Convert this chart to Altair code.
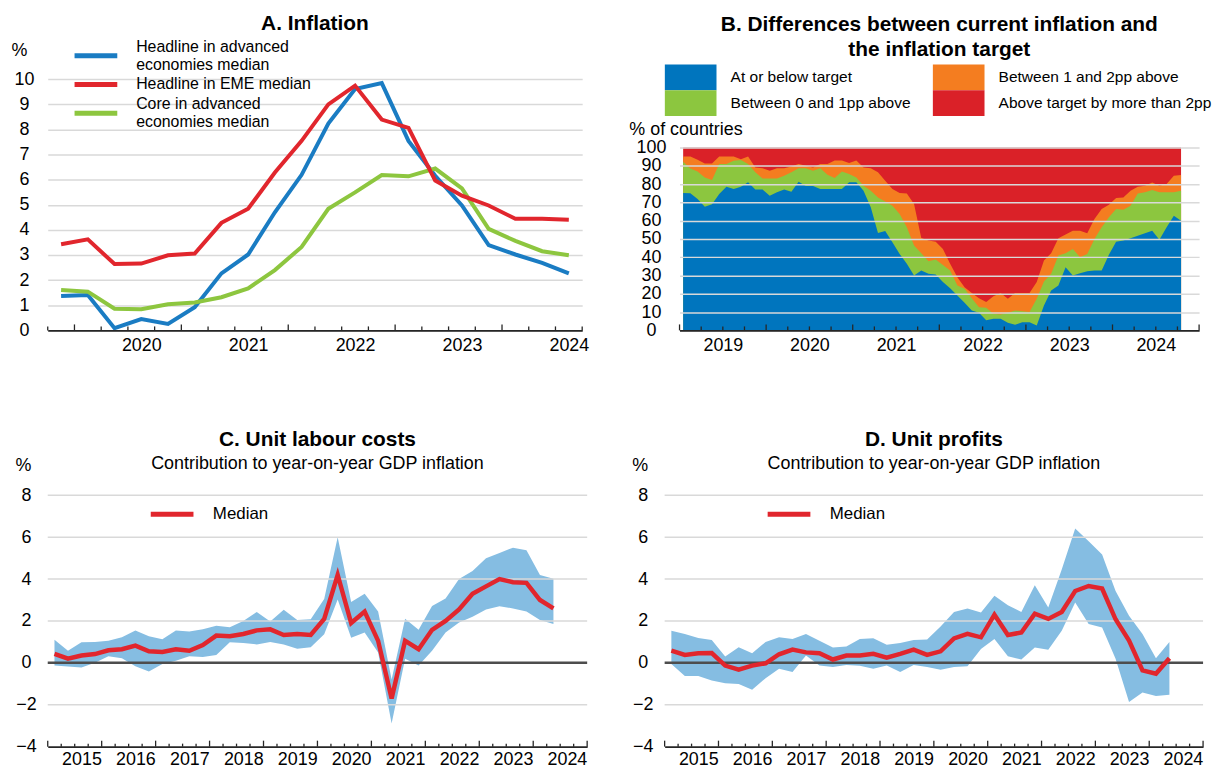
import altair as alt
import numpy as np
import pandas as pd

FONT = "Liberation Sans"
AXIS_C = "#262626"
GRID_C = "#D9D9D9"

# ---------------- Panel A: inflation, quarterly 2019Q4-2024Q3 ----------------
a_quarters = [str(p) for p in pd.period_range("2019Q4", "2024Q3", freq="Q")]
a_headline_ae = [1.37, 1.41, 0.09, 0.45, 0.26, 0.92, 2.27, 3.02, 4.70, 6.19,
                 8.23, 9.60, 9.84, 7.54, 6.15, 4.97, 3.39, 3.02, 2.69, 2.27]
a_headline_eme = [3.43, 3.62, 2.64, 2.66, 2.99, 3.06, 4.28, 4.84, 6.28, 7.54,
                  8.99, 9.74, 8.39, 8.06, 5.96, 5.36, 4.97, 4.44, 4.44, 4.40]
a_core_ae = [1.61, 1.54, 0.86, 0.84, 1.04, 1.11, 1.32, 1.67, 2.40, 3.32,
             4.84, 5.49, 6.18, 6.13, 6.44, 5.65, 4.04, 3.56, 3.15, 2.99]
a_series = ["Headline in advanced|\u00a0economies median",
            "Headline in EME median",
            "Core in advanced|\u00a0economies median"]
a_colors = ["#1A7CC3", "#E1262D", "#8DC63F"]

# ---------------- Panel B: monthly 2019-01 .. 2024-10 (cumulative % of countries) ----
b_months = [str(p) for p in pd.period_range("2019-01", "2024-10", freq="M")]
b_at_or_below = [75.1, 75.0, 71.8, 67.6, 69.0, 74.5, 78.5, 77.3, 78.5, 81.0,
                 77.0, 77.0, 73.6, 75.5, 77.0, 75.8, 81.3, 79.0, 79.0, 77.3,
                 77.3, 77.3, 77.3, 81.0, 81.0, 76.4, 67.3, 53.3, 54.4, 48.2,
                 41.8, 36.4, 30.0, 32.7, 31.0, 30.5, 26.4, 23.1, 19.1, 15.1,
                 10.9, 9.6, 5.5, 6.4, 6.4, 4.2, 3.1, 4.5, 4.5, 2.7,
                 13.6, 21.8, 24.5, 34.5, 30.0, 31.3, 32.4, 32.7, 32.7, 41.3,
                 48.5, 49.1, 50.4, 51.8, 53.1, 54.5, 49.6, 56.4, 62.7, 60.0]
b_up_to_1pp = [92.2, 88.5, 86.9, 83.6, 82.2, 90.9, 90.9, 92.7, 93.1, 90.9,
               86.4, 83.1, 83.1, 83.1, 84.5, 86.4, 88.7, 88.7, 87.3, 88.7,
               85.1, 83.3, 86.9, 85.5, 83.6, 79.1, 76.4, 72.7, 70.5, 68.2,
               63.6, 56.4, 46.4, 42.2, 37.8, 38.7, 35.8, 32.7, 24.5, 22.7,
               17.6, 12.7, 12.4, 9.1, 8.7, 9.6, 10.9, 10.4, 10.0, 17.3,
               26.7, 30.9, 40.9, 42.2, 44.5, 40.0, 41.8, 50.0, 56.4, 61.8,
               66.4, 66.0, 68.2, 74.9, 75.5, 76.7, 75.5, 75.5, 75.5, 76.4]
b_up_to_2pp = [95.1, 95.1, 93.3, 91.3, 91.3, 95.1, 95.1, 95.1, 93.6, 95.1,
               89.1, 88.7, 87.3, 88.7, 88.7, 89.6, 90.9, 90.0, 89.1, 90.9,
               90.9, 92.9, 92.9, 91.5, 92.9, 89.1, 88.7, 86.4, 81.8, 77.3,
               75.1, 74.9, 69.1, 50.5, 49.1, 48.5, 44.5, 36.4, 29.1, 23.6,
               20.5, 17.6, 15.5, 18.7, 20.5, 17.3, 20.5, 20.5, 20.5, 26.4,
               38.2, 42.2, 50.4, 52.4, 54.5, 54.5, 53.1, 60.9, 66.4, 68.7,
               72.4, 72.7, 76.4, 78.5, 79.1, 80.9, 79.1, 80.0, 84.5, 84.9]
b_all = [100.0] * len(b_months)
b_cats = ["At or below target", "Between 0 and 1pp above",
          "Between 1 and 2pp above", "Above target by more than 2pp"]
b_colors = ["#0075BE", "#8CC63F", "#F47D20", "#DA2128"]

# ---------------- Panels C & D: quarterly 2015Q1 .. 2024Q2 ----------------
cd_quarters = [str(p) for p in pd.period_range("2015Q1", "2024Q2", freq="Q")]
c_median = [0.43, 0.20, 0.35, 0.42, 0.60, 0.65, 0.82, 0.55, 0.52, 0.65,
            0.58, 0.85, 1.30, 1.27, 1.38, 1.55, 1.60, 1.33, 1.38, 1.33,
            2.10, 4.20, 1.90, 2.45, 1.05, -1.70, 1.05, 0.65, 1.58, 2.00,
            2.55, 3.30, 3.65, 4.00, 3.85, 3.82, 3.00, 2.60]
c_high = [1.10, 0.58, 0.98, 1.00, 1.05, 1.22, 1.55, 1.27, 1.13, 1.55,
          1.50, 1.60, 1.77, 1.70, 2.00, 2.43, 1.98, 2.53, 2.05, 2.08,
          3.05, 6.00, 2.90, 3.30, 2.45, -0.80, 2.10, 1.58, 2.72, 3.07,
          4.00, 4.38, 5.00, 5.25, 5.50, 5.38, 4.20, 4.02]
c_low = [-0.13, -0.17, -0.22, 0.00, 0.32, 0.22, -0.16, -0.41, -0.05, 0.10,
         0.32, 0.28, 0.38, 0.98, 0.95, 0.88, 1.00, 0.88, 0.67, 0.74,
         1.37, 3.03, 1.20, 1.45, 0.50, -2.90, 0.20, -0.13, 0.58, 1.45,
         1.93, 2.20, 2.55, 2.70, 2.60, 2.45, 2.05, 1.85]
d_median = [0.58, 0.38, 0.46, 0.47, -0.13, -0.32, -0.13, -0.02, 0.41, 0.63,
            0.50, 0.46, 0.16, 0.35, 0.35, 0.43, 0.25, 0.43, 0.63, 0.38,
            0.55, 1.17, 1.38, 1.22, 2.30, 1.33, 1.45, 2.35, 2.10, 2.43,
            3.43, 3.67, 3.55, 2.08, 1.06, -0.36, -0.52, 0.22]
d_high = [1.53, 1.38, 1.19, 1.09, 0.30, 0.74, 0.46, 1.00, 1.22, 1.14,
          1.38, 1.06, 0.73, 0.78, 1.14, 1.17, 0.87, 0.95, 1.09, 1.12,
          1.74, 2.43, 2.60, 2.40, 3.20, 2.75, 2.43, 3.70, 2.64, 4.46,
          6.42, 5.80, 5.17, 3.43, 2.25, 1.38, 0.22, 1.00]
d_low = [-0.05, -0.63, -0.63, -0.84, -0.97, -1.01, -1.28, -0.73, -0.28, -0.44,
         0.35, -0.13, -0.20, -0.10, -0.14, -0.28, -0.13, -0.44, -0.10, -0.20,
         -0.33, -0.20, -0.16, 0.66, 1.14, 0.32, 0.16, 0.73, 0.63, 1.53,
         2.88, 1.85, 1.69, 0.19, -1.87, -1.42, -1.58, -1.52]
band_color = "#85BDE2"
median_color = "#E1262D"

LINE_SYMBOL = "M-4,0H4"          # horizontal legend line, 43 px long at size 115.6
RECT_SYMBOL = "M-2,-1H2V1H-2Z"    # 52 x 26 legend swatch at size 676


def qpos(q):
    p = pd.Period(q, freq="Q")
    return p.year + (p.quarter - 1) / 4 + 0.125


def mpos(m):
    p = pd.Period(m, freq="M")
    return p.year + (p.month - 1) / 12 + 1 / 24


def x_axis(years, off, pad=6):
    return alt.Axis(values=[y + off for y in years], labelExpr="'' + floor(datum.value)",
                    ticks=False, tickSize=0, grid=False, domain=True, domainColor=AXIS_C,
                    domainWidth=1.6, labelFontSize=18, labelPadding=pad, labelFlush=False,
                    labelOverlap=False, title=None, zindex=1)


def y_axis(values, pad, title, tx, ty, grid=False, zindex=0):
    return alt.Axis(values=values, grid=grid, gridColor=GRID_C, gridWidth=1.5, domain=False,
                    ticks=False, tickSize=0, labelAlign="center", labelBaseline="middle",
                    labelPadding=pad, labelFontSize=18, title=title, titleAngle=0,
                    titleAlign="left", titleBaseline="middle", titleX=tx, titleY=ty,
                    titleFontSize=18, titleFontWeight="normal", zindex=zindex)


def tick_layers(start, end, xscale, xaxis, height, minor_len, major_len):
    pos = np.arange(start, end + 1e-9, 0.25)
    df = pd.DataFrame({"t": pos, "major": np.isclose(pos % 1, 0)})
    base = alt.Chart(df).mark_rule(color=AXIS_C, strokeWidth=1.3)
    minor = base.transform_filter("!datum.major").encode(
        x=alt.X("t:Q", scale=xscale, axis=xaxis),
        y=alt.value(height), y2=alt.value(height - minor_len))
    major = base.transform_filter("datum.major").encode(
        x=alt.X("t:Q", scale=xscale, axis=xaxis),
        y=alt.value(height), y2=alt.value(height - major_len))
    return [minor, major]


def line_legend(lx, ly, **kw):
    return alt.Legend(orient="none", legendX=lx, legendY=ly, title=None, symbolType=LINE_SYMBOL,
                      symbolSize=115.6, symbolStrokeWidth=5, symbolFillColor="transparent",
                      labelOffset=32.5, labelLimit=400, padding=0, **kw)


H = 253

# ---------------- Panel A ----------------
A_W = 538
xA = alt.Scale(domain=[2019.75, 2024.75], nice=False, zero=False)
yA = alt.Scale(domain=[0, 10], nice=False, zero=False)
xaxA = x_axis(range(2020, 2025), 0.625)
xs_a = [qpos(q) for q in a_quarters]
dfA = pd.DataFrame({
    "x": xs_a * 3,
    "value": a_headline_ae + a_core_ae + a_headline_eme,
    "series": [a_series[0]] * len(xs_a) + [a_series[2]] * len(xs_a) + [a_series[1]] * len(xs_a),
})
legA = line_legend(40.5, -31.5, labelExpr="split(datum.label, '|')", labelFontSize=16, rowPadding=2,
                   labelBaseline={"expr": "indexof(datum.label, '|') >= 0 ? 'line-bottom' : 'middle'"})
linesA = alt.Chart(dfA).mark_line(strokeWidth=4).encode(
    x=alt.X("x:Q", scale=xA, axis=xaxA),
    y=alt.Y("value:Q", scale=yA, axis=y_axis(list(range(0, 11)), 24, "%", -37, -29, grid=True)),
    color=alt.Color("series:N", scale=alt.Scale(domain=a_series, range=a_colors), legend=legA),
    detail="series:N",
)
panelA = alt.layer(linesA, *tick_layers(2019.75, 2024.75, xA, xaxA, H, 4, 6)).properties(
    width=A_W, height=H, title=alt.Title("A. Inflation", offset=7))

# ---------------- Panel B ----------------
B_W = 523
xB = alt.Scale(domain=[2019, 2025], nice=False, zero=False)
yB = alt.Scale(domain=[0, 137.4], nice=False, zero=False)
xaxB = x_axis(range(2019, 2025), 0.5)
yaxB = y_axis(list(range(0, 101, 10)), 28.7, "% of countries", -51, 51, grid=True, zindex=1)
dfB = pd.DataFrame({
    "x": [mpos(m) for m in b_months],
    "all": b_all,
    "lvl2": b_up_to_2pp,
    "lvl1": b_up_to_1pp,
    "lvl0": b_at_or_below,
})
legB = alt.Legend(orient="none", legendX=-1.8, legendY=-14.7, title=None, columns=2,
                  columnPadding=21.8, rowPadding=0, symbolType=RECT_SYMBOL,
                  symbolSize=676, symbolStrokeWidth=0, symbolOpacity=1, labelFontSize=15.6,
                  labelOffset=27.2, labelLimit=400, padding=0)
colorB = alt.Scale(domain=b_cats, range=b_colors)


def b_area(field, cat):
    return alt.Chart(dfB).transform_calculate(cat=f"'{cat}'").mark_area(opacity=1).encode(
        x=alt.X("x:Q", scale=xB, axis=xaxB),
        y=alt.Y(f"{field}:Q", scale=yB, stack=None, axis=yaxB),
        color=alt.Color("cat:N", scale=colorB, legend=legB),
    )


panelB = alt.layer(
    b_area("all", b_cats[3]),
    b_area("lvl2", b_cats[2]),
    b_area("lvl1", b_cats[1]),
    b_area("lvl0", b_cats[0]),
    *tick_layers(2019, 2025, xB, xaxB, H, 4, 6),
).properties(width=B_W, height=H,
             title=alt.Title(["B. Differences between current inflation and", "the inflation target"],
                             lineHeight=25, offset=5))


# ---------------- Panels C & D ----------------
def panel_cd(title, med, low, high, width, legx):
    xC = alt.Scale(domain=[2015, 2025], nice=False, zero=False)
    yC = alt.Scale(domain=[-4, 8], nice=False, zero=False)
    xax = x_axis(range(2015, 2025), 0.625, pad=4)
    yax = y_axis([-4, -2, 0, 2, 4, 6, 8], 22, "%", -33, -29.6)
    df = pd.DataFrame({"x": [qpos(q) for q in cd_quarters], "median": med, "low": low,
                       "high": high, "series": "Median"})
    band = alt.Chart(df).mark_area(color=band_color, opacity=1).encode(
        x=alt.X("x:Q", scale=xC, axis=xax),
        y=alt.Y("low:Q", scale=yC, axis=yax),
        y2="high:Q",
    )
    grid = alt.Chart(pd.DataFrame({"g": [-2, 2, 4, 6, 8]})).mark_rule(
        color=GRID_C, strokeWidth=1.5).encode(y=alt.Y("g:Q", scale=yC, axis=yax))
    zero = alt.Chart(pd.DataFrame({"g": [0]})).mark_rule(
        color="#4D4D4D", strokeWidth=2.5).encode(y=alt.Y("g:Q", scale=yC, axis=yax))
    leg = line_legend(legx, 10.5, labelFontSize=17)
    line = alt.Chart(df).mark_line(strokeWidth=4.5).encode(
        x=alt.X("x:Q", scale=xC, axis=xax),
        y=alt.Y("median:Q", scale=yC, axis=yax),
        color=alt.Color("series:N", scale=alt.Scale(domain=["Median"], range=[median_color]), legend=leg),
    )
    return alt.layer(band, grid, zero, *tick_layers(2015, 2025, xC, xax, H, 3, 6), line).properties(
        width=width, height=H,
        title=alt.Title(title, subtitle="Contribution to year-on-year GDP inflation",
                        subtitleFontSize=18, subtitleFont=FONT, subtitleColor="black",
                        subtitlePadding=5, offset=-16))


panelC = panel_cd("C. Unit labour costs", c_median, c_low, c_high, 543, 116.7)
panelD = panel_cd("D. Unit profits", d_median, d_low, d_high, 542, 116.7)

top = alt.hconcat(panelA, panelB, spacing=40).resolve_scale(color="independent", x="independent", y="independent")
bottom = alt.hconcat(panelC, panelD, spacing=43).resolve_scale(color="independent", x="independent", y="independent")

chart = alt.vconcat(top, bottom, spacing=75).resolve_scale(
    color="independent", x="independent", y="independent"
).properties(
    padding={"left": 3, "top": 3, "right": 0, "bottom": 0}
).configure(font=FONT).configure_view(stroke=None).configure_axis(
    labelFont=FONT, titleFont=FONT, labelColor="black", titleColor="black"
).configure_title(
    font=FONT, fontSize=21, fontWeight="bold", color="black", anchor="middle", frame="group"
).configure_legend(labelFont=FONT, labelColor="black")

chart.save("out.html", embed_options={"renderer": "svg", "actions": False})
